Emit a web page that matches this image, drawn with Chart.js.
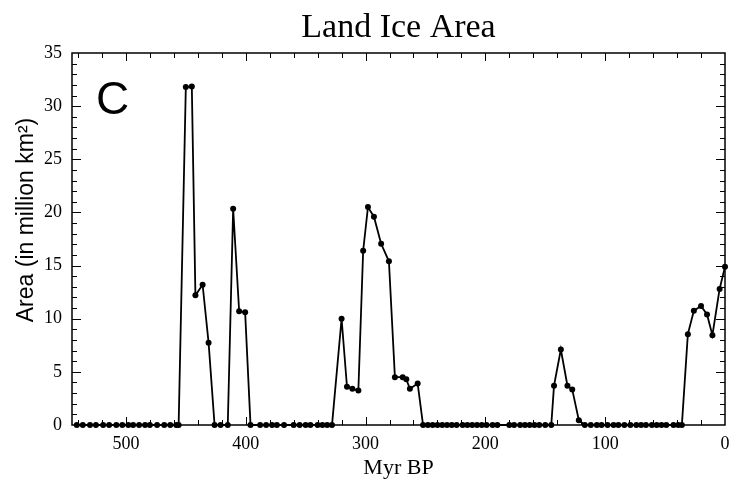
<!DOCTYPE html>
<html>
<head>
<meta charset="utf-8">
<style>
  html, body { margin: 0; padding: 0; background: #fff; }
  #wrap { width: 742px; height: 482px; }
</style>
<script src="https://cdn.jsdelivr.net/npm/chart.js@4/dist/chart.umd.min.js"></script>
</head>
<body>
<div id="wrap"><canvas id="chart"></canvas></div>
<script>
// Land ice area through the Phanerozoic.
const ageMyr = [
    541, 536, 530, 525, 519, 514, 508, 503, 498, 494, 489, 484, 480, 474, 468, 463, 458,
    456, 450, 445, 442, 436, 431, 426, 421, 415, 410.5, 405.5, 400.5, 396,
    388, 383, 378, 374, 368, 360, 355, 350, 346, 340, 336, 332, 328,
    320, 315.5, 311, 306, 302, 298, 293, 287, 280.5, 275.5, 269, 266, 263, 256.5, 252,
    248, 244, 240, 236, 232, 228, 224, 219, 215, 211, 207, 203, 199, 194, 190,
    180, 176, 171, 167, 163, 159, 155, 150,
    145, 142.7, 137, 131.5, 127.5, 122, 117,
    112, 107, 103, 98, 93, 89, 84, 79, 74, 70, 66, 61, 57, 53, 49, 43, 39, 36,
    31, 26, 20, 15, 10.5, 4.5, 0,
];
const iceArea = [
    0, 0, 0, 0, 0, 0, 0, 0, 0, 0, 0, 0, 0, 0, 0, 0, 0,
    0, 31.8, 31.85, 12.2, 13.2, 7.75, 0, 0, 0, 20.35, 10.7, 10.6, 0,
    0, 0, 0, 0, 0, 0, 0, 0, 0, 0, 0, 0, 0,
    10.0, 3.6, 3.4, 3.25, 16.4, 20.5, 19.6, 17.05, 15.4, 4.5, 4.5, 4.3, 3.4, 3.9, 0,
    0, 0, 0, 0, 0, 0, 0, 0, 0, 0, 0, 0, 0, 0, 0,
    0, 0, 0, 0, 0, 0, 0, 0,
    0, 3.7, 7.1, 3.7, 3.35, 0.45, 0,
    0, 0, 0, 0, 0, 0, 0, 0, 0, 0, 0, 0, 0, 0, 0, 0, 0, 0,
    8.55, 10.75, 11.2, 10.4, 8.45, 12.8, 14.9,
];
const xTicks = [0, 100, 200, 300, 400, 500];
const yTicks = [0, 5, 10, 15, 20, 25, 30, 35];
const xMax = 545;
const yMax = 35;

const serif = "'Liberation Serif', 'Times New Roman', serif";
const sans = "'Liberation Sans', Arial, sans-serif";

// Closed frame with inward major/minor ticks on all four sides, plus the
// panel letter and the y title (which sits above the axis centre).
const frameTicks = {
    id: "frameTicks",
    beforeDatasetsDraw(chart) {
        const { ctx, chartArea: a, scales: { x, y } } = chart;
        ctx.save();
        ctx.strokeStyle = "#000";
        ctx.lineWidth = 1.5;
        ctx.strokeRect(a.left, a.top, a.right - a.left, a.bottom - a.top);
        ctx.lineWidth = 1;
        ctx.beginPath();
        for (let v = 20; v < xMax; v += 20) {
            const px = Math.round(x.getPixelForValue(v)) + 0.5;
            const len = v % 100 === 0 ? 8 : 5;
            ctx.moveTo(px, a.bottom);
            ctx.lineTo(px, a.bottom - len);
            ctx.moveTo(px, a.top);
            ctx.lineTo(px, a.top + len);
        }
        for (let v = 1; v < yMax; v += 1) {
            const py = Math.round(y.getPixelForValue(v)) + 0.5;
            const len = v % 5 === 0 ? 9 : 5;
            ctx.moveTo(a.left, py);
            ctx.lineTo(a.left + len, py);
            ctx.moveTo(a.right, py);
            ctx.lineTo(a.right - len, py);
        }
        ctx.stroke();
        ctx.restore();
    },
    afterDraw(chart) {
        const { ctx, chartArea: a } = chart;
        ctx.save();
        ctx.fillStyle = "#000";
        ctx.font = "46px " + sans;
        ctx.textBaseline = "alphabetic";
        ctx.fillText("C", a.left + 24, 114);

        ctx.translate(33, 220);
        ctx.rotate(-Math.PI / 2);
        ctx.font = "23px " + sans;
        ctx.textAlign = "center";
        ctx.fillText("Area (in million km\u00b2)", 0, 0);
        ctx.restore();
    },
};

new Chart(document.getElementById("chart"), {
    type: "scatter",
    data: {
        datasets: [
            {
                data: ageMyr.map((t, i) => ({ x: t, y: iceArea[i] })),
                showLine: true,
                borderColor: "#000",
                backgroundColor: "#000",
                borderWidth: 1.8,
                pointRadius: 3,
                pointBorderWidth: 0,
                clip: false,
            },
        ],
    },
    options: {
        responsive: true,
        maintainAspectRatio: false,
        animation: false,
        layout: { padding: { left: 0, right: 17, top: 0, bottom: 0 } },
        plugins: {
            legend: { display: false },
            tooltip: { enabled: false },
            title: {
                display: true,
                text: "Land Ice Area",
                fullSize: false,
                color: "#000",
                font: { family: serif, size: 34, weight: "normal" },
                padding: { top: 8, bottom: 4.2 },
            },
        },
        scales: {
            x: {
                type: "linear",
                reverse: true,
                min: 0,
                max: xMax,
                afterBuildTicks: (scale) => {
                    scale.ticks = xTicks.map((v) => ({ value: v }));
                },
                afterFit: (scale) => {
                    scale.height = 57;
                },
                grid: { display: false, drawTicks: false },
                border: { display: false },
                ticks: {
                    color: "#000",
                    padding: 8,
                    maxRotation: 0,
                    font: { family: serif, size: 18 },
                },
                title: {
                    display: true,
                    text: "Myr BP",
                    color: "#000",
                    font: { family: serif, size: 22 },
                    padding: { top: 0, bottom: 1 },
                },
            },
            y: {
                min: 0,
                max: yMax,
                afterBuildTicks: (scale) => {
                    scale.ticks = yTicks.map((v) => ({ value: v }));
                },
                afterFit: (scale) => {
                    scale.width = 72;
                },
                grid: { display: false, drawTicks: false },
                border: { display: false },
                ticks: {
                    color: "#000",
                    padding: 10,
                    font: { family: serif, size: 18 },
                },
            },
        },
    },
    plugins: [frameTicks],
});
</script>
</body>
</html>
